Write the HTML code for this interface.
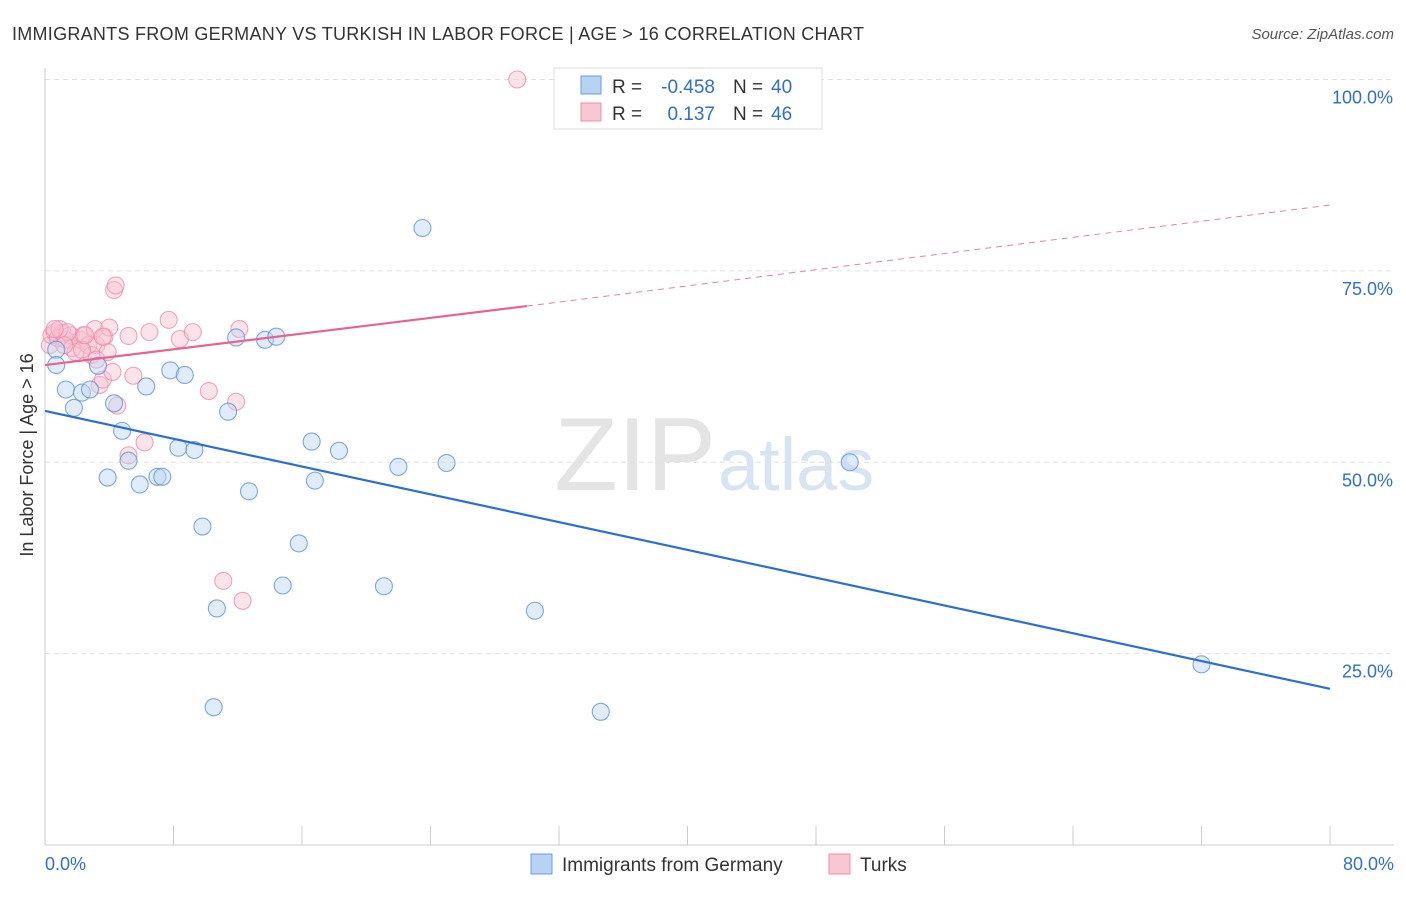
<!DOCTYPE html>
<html><head><meta charset="utf-8"><style>
body{margin:0;background:#fff;font-family:"Liberation Sans",sans-serif}
svg text{font-family:"Liberation Sans",sans-serif}
</style></head><body>
<svg id="c" width="1406" height="892" xmlns="http://www.w3.org/2000/svg">
<text x="12" y="40" font-size="18" fill="#333" textLength="852">IMMIGRANTS FROM GERMANY VS TURKISH IN LABOR FORCE | AGE &gt; 16 CORRELATION CHART</text>
<text x="1394" y="39" font-size="15" fill="#555" font-style="italic" text-anchor="end">Source: ZipAtlas.com</text>
<text x="716" y="490" font-size="104" fill="#e4e4e4" text-anchor="end" font-family="Liberation Serif">ZIP</text>
<text x="718" y="490" font-size="74" fill="#d8e4f4">atlas</text>
<g id="grid"></g><g id="axes"></g><g id="pts"></g><g id="lines"></g>
<text transform="translate(33,455) rotate(-90)" font-size="18" fill="#333" text-anchor="middle">In Labor Force | Age &gt; 16</text>
<g>
<rect x="554" y="68" width="268" height="61" fill="#fff" stroke="#ddd"/>
<rect x="581" y="76" width="20" height="18" fill="#b8d2f4" stroke="#6a9be0"/>
<rect x="581" y="103" width="20" height="18" fill="#f9c6d4" stroke="#ec8fab"/>
<text x="612" y="93" font-size="19" fill="#333">R =</text>
<text x="715" y="93" font-size="19" fill="#2f6fd0" text-anchor="end">-0.458</text>
<text x="733" y="93" font-size="19" fill="#333">N =</text>
<text x="771" y="93" font-size="19" fill="#2f6fd0">40</text>
<text x="612" y="120" font-size="19" fill="#333">R =</text>
<text x="715" y="120" font-size="19" fill="#2f6fd0" text-anchor="end">0.137</text>
<text x="733" y="120" font-size="19" fill="#333">N =</text>
<text x="771" y="120" font-size="19" fill="#2f6fd0">46</text>
</g>
<g>
<rect x="531" y="854" width="21" height="20" fill="#b8d2f4" stroke="#6a9be0"/>
<text x="562" y="871" font-size="19" fill="#333">Immigrants from Germany</text>
<rect x="829" y="854" width="21" height="20" fill="#f9c6d4" stroke="#ec8fab"/>
<text x="860" y="871" font-size="19" fill="#333">Turks</text>
</g>
</svg>
<script>
const blueX=[0.7,0.7,1.3,1.8,2.3,2.8,3.3,3.9,4.3,4.8,5.2,5.9,6.3,7.0,7.3,7.8,8.3,8.7,9.3,9.8,10.5,10.7,11.4,11.9,12.7,13.7,14.4,14.8,15.8,16.6,16.8,18.3,21.1,22.0,23.5,25.0,30.5,34.6,50.1,72.0];
const blueY=[64.7,62.7,59.5,57.1,59.1,59.5,62.6,48.0,57.7,54.1,50.2,47.1,59.9,48.1,48.1,62.0,51.9,61.4,51.6,41.6,18.0,30.9,56.6,66.3,46.2,66.0,66.4,33.9,39.4,52.7,47.6,51.5,33.8,49.4,80.6,49.9,30.6,17.4,50.0,23.6];
const pinkX=[0.3,0.4,0.6,0.8,1.1,1.3,1.6,1.7,1.9,2.2,2.4,2.7,2.9,3.1,3.2,3.4,3.6,3.7,3.9,4.0,4.2,4.3,4.4,4.5,5.2,5.2,5.5,6.2,6.5,7.7,8.4,9.2,10.2,11.1,11.9,12.1,12.3,29.4,0.9,1.4,2.3,3.2,0.6,1.2,2.5,3.6];
const pinkY=[65.3,66.6,67.0,66.2,66.9,66.0,66.6,64.9,64.4,66.0,66.6,65.3,64.0,67.4,65.3,60.1,60.8,66.4,64.4,67.6,61.8,72.5,73.1,57.4,66.5,50.9,61.3,52.6,67.0,68.6,66.1,67.0,59.3,34.5,57.9,67.4,31.9,100.0,67.4,67.0,64.7,63.4,67.4,65.3,66.6,66.4];
const blueTrend=[[0,56.7],[80,20.4]];
const pinkTrend=[[0,62.7],[30,70.4],[80,83.6]];
const yTicks=[25,50,75,100];
const xTickLabels=["0.0%","80.0%"];
const NS="http://www.w3.org/2000/svg";
const X=v=>45+v/80*1285, Y=v=>845-v*7.655;
function mk(t,a,p){const e=document.createElementNS(NS,t);for(const k in a)e.setAttribute(k,a[k]);document.getElementById(p).appendChild(e);return e;}
yTicks.forEach(t=>{
 const g=mk('line',{x1:45,x2:1394,y1:Y(t),y2:Y(t),stroke:'#e2e2e2','stroke-dasharray':'5,4'},'grid');
 
 
 const l=mk('text',{x:1393,y:Y(t)+24,'font-size':18,fill:'#2f6fd0','text-anchor':'end'},'grid');
 l.textContent=t.toFixed(1)+'%';
 
 
});
const ax=mk('line',{x1:45,x2:1394,y1:845,y2:845,stroke:'#ccc'},'axes');


const ay=mk('line',{x1:45,x2:45,y1:68,y2:845,stroke:'#ccc'},'axes');


for(let i=1;i<=10;i++){const t=mk('line',{x1:X(i*8),x2:X(i*8),y1:826,y2:845,stroke:'#ccc'},'axes');
 
 }
[[0,'start',45],[80,'end',1394]].forEach((d,i)=>{const l=mk('text',{x:d[2],y:870,'font-size':18,fill:'#2f6fd0','text-anchor':d[1]},'axes');l.textContent=xTickLabels[i];
 
 });
function dots(xs,ys,f,s,n){xs.forEach((x,i)=>{const c=mk('circle',{cx:X(x),cy:Y(ys[i]),r:8.5,fill:f,'fill-opacity':0.45,stroke:s,'stroke-width':1.1,'stroke-opacity':0.8},'pts');
 
 });}
dots(pinkX,pinkY,'#f9c0d0','#ec8fab','turks-point');
dots(blueX,blueY,'#bcd4f4','#5e93dc','germany-point');
const bl=mk('line',{x1:X(blueTrend[0][0]),y1:Y(blueTrend[0][1]),x2:X(blueTrend[1][0]),y2:Y(blueTrend[1][1]),stroke:'#2a6fd6','stroke-width':2.2},'lines');


const pl=mk('line',{x1:X(pinkTrend[0][0]),y1:Y(pinkTrend[0][1]),x2:X(pinkTrend[1][0]),y2:Y(pinkTrend[1][1]),stroke:'#e8648e','stroke-width':2.2},'lines');


const pd=mk('line',{x1:X(pinkTrend[1][0]),y1:Y(pinkTrend[1][1]),x2:X(pinkTrend[2][0]),y2:Y(pinkTrend[2][1]),stroke:'#e8829f','stroke-width':1,'stroke-dasharray':'6,5'},'lines');


</script>
</body></html>
